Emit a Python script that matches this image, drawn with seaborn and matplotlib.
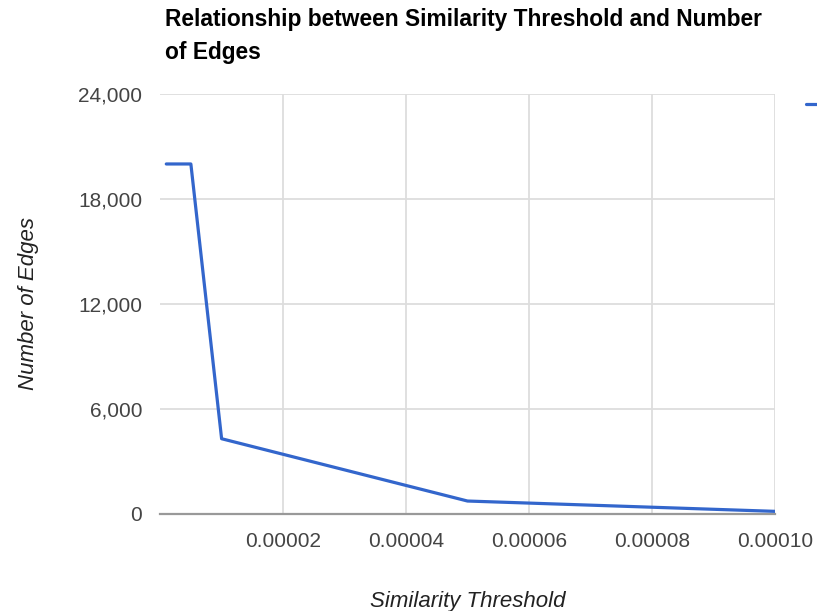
import matplotlib
matplotlib.use("Agg")
import matplotlib.pyplot as plt
import matplotlib.ticker as mticker
import seaborn as sns
import pandas as pd

# values
thresholds = [0.000001, 0.000005, 0.00001, 0.00005, 0.0001]
edges = [20000, 20000, 4300, 740, 150]
x_ticks = [0.00002, 0.00004, 0.00006, 0.00008, 0.0001]
y_ticks = [0, 6000, 12000, 18000, 24000]

sns.set_style("white")
plt.rcParams["font.family"] = ["Liberation Sans", "DejaVu Sans"]

df = pd.DataFrame({"Similarity Threshold": thresholds, "Number of Edges": edges})

fig = plt.figure(figsize=(8.17, 6.11), dpi=100)
ax = fig.add_axes([0.196, 0.1588, 0.7524, 0.6874])

sns.lineplot(data=df, x="Similarity Threshold", y="Number of Edges", ax=ax,
             color="#3366cc", linewidth=2.3, label=" ", zorder=3)

ax.set_xlim(0, 0.0001)
ax.set_ylim(0, 24000)
ax.set_xticks(x_ticks)
ax.set_yticks(y_ticks)
ax.xaxis.set_major_formatter(mticker.FuncFormatter(lambda v, p: f"{v:.5f}"))
ax.yaxis.set_major_formatter(mticker.FuncFormatter(lambda v, p: f"{int(v):,}"))
ax.grid(True, color="#dddddd", linewidth=1.3)
for s in ["left", "right", "top"]:
    ax.spines[s].set_visible(False)
ax.spines["bottom"].set_color("#999999")
ax.spines["bottom"].set_linewidth(1.6)
ax.spines["bottom"].set_zorder(2)
ax.tick_params(axis="both", length=0, labelsize=15, colors="#444444")
ax.tick_params(axis="x", pad=13)
ax.tick_params(axis="y", pad=13)

ax.set_xlabel("Similarity Threshold", fontsize=16, style="italic", color="#222222", labelpad=29)
ax.set_ylabel("Number of Edges", fontsize=16, style="italic", color="#222222", labelpad=28)

fig.text(165 / 817, 1 - 8 / 611,
         "Relationship between Similarity Threshold and Number\nof Edges",
         ha="left", va="top", fontsize=16.4, fontweight="bold", color="#000000",
         linespacing=1.55)

ax.legend(loc="upper left", bbox_to_anchor=(806 / 817, 1 - 97 / 611),
          bbox_transform=fig.transFigure, frameon=False, fontsize=14,
          handlelength=2.5, borderaxespad=0, borderpad=0)

fig.savefig("out.png", dpi=100)
